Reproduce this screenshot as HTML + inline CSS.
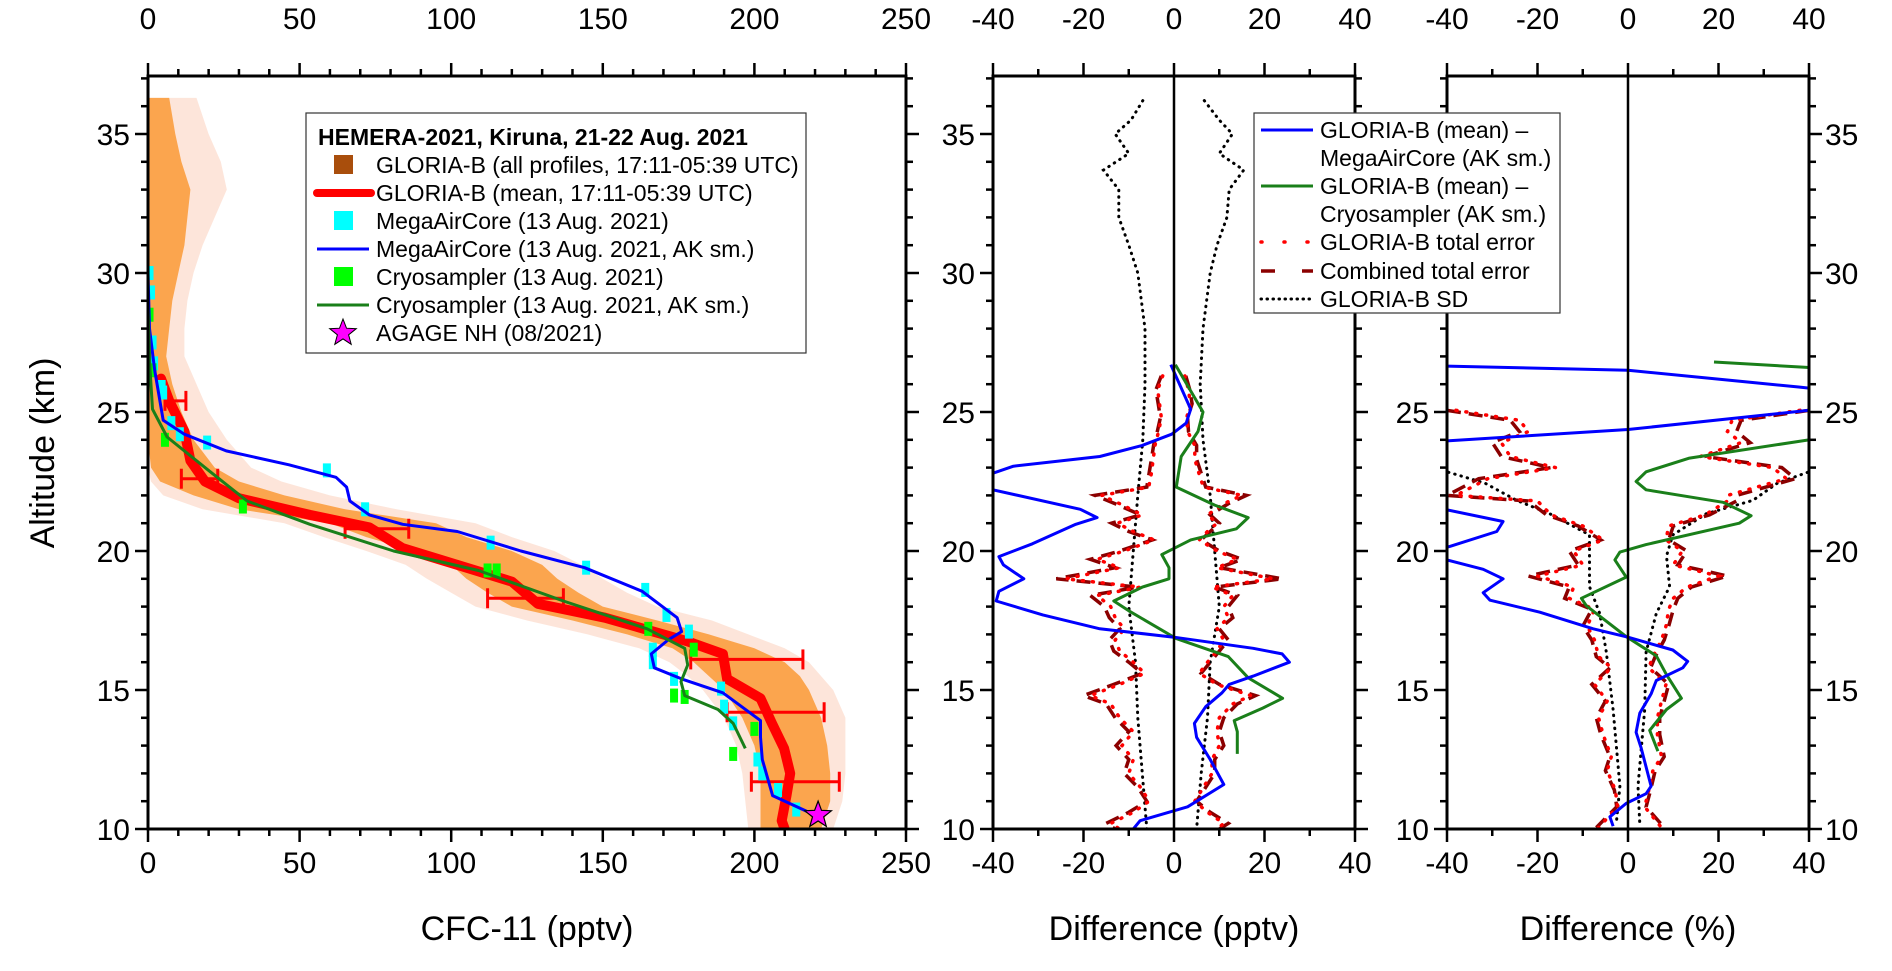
<!DOCTYPE html>
<html><head><meta charset="utf-8">
<style>
body{margin:0;background:#fff;width:1892px;height:971px;overflow:hidden}
svg{display:block}
text{font-family:"Liberation Sans",Arial,sans-serif;fill:#000}
.tl{font-size:30px}
.ti{font-size:34px}
.lg{font-size:23px}
</style></head>
<body>
<svg id="chart" width="1892" height="971" viewBox="0 0 1892 971" xmlns="http://www.w3.org/2000/svg">
<defs>
<clipPath id="c1"><rect x="148" y="76" width="758" height="753"/></clipPath>
<clipPath id="c2"><rect x="993" y="76" width="362" height="753"/></clipPath>
<clipPath id="c3"><rect x="1447" y="76" width="362" height="753"/></clipPath>
</defs>
<g id="p1"></g>
<g id="p2"></g>
<g id="p3"></g>
<g id="axes"></g>

<text class="ti" x="527" y="940" text-anchor="middle">CFC-11 (pptv)</text>
<text class="ti" x="1174" y="940" text-anchor="middle">Difference (pptv)</text>
<text class="ti" x="1628" y="940" text-anchor="middle">Difference (%)</text>
<text class="ti" x="0" y="0" text-anchor="middle" transform="translate(54,453) rotate(-90)">Altitude (km)</text>

<g>
<rect x="306" y="113" width="500" height="240" fill="#fff" stroke="#333" stroke-width="1.2"/>
<text class="lg" x="318" y="145" font-weight="bold">HEMERA-2021, Kiruna, 21-22 Aug. 2021</text>
<g><rect x="334" y="155" width="19" height="19" fill="#a94e0c"/><text class="lg" x="376" y="173">GLORIA-B (all profiles, 17:11-05:39 UTC)</text></g>
<g><line x1="317" y1="193" x2="371" y2="193" stroke="#f00" stroke-width="8" stroke-linecap="round"/><text class="lg" x="376" y="201">GLORIA-B (mean, 17:11-05:39 UTC)</text></g>
<g><rect x="334" y="211" width="19" height="19" fill="#00ffff"/><text class="lg" x="376" y="229">MegaAirCore (13 Aug. 2021)</text></g>
<g><line x1="317" y1="249" x2="369" y2="249" stroke="#0000ff" stroke-width="3"/><text class="lg" x="376" y="257">MegaAirCore (13 Aug. 2021, AK sm.)</text></g>
<g><rect x="334" y="267" width="19" height="19" fill="#00ff00"/><text class="lg" x="376" y="285">Cryosampler (13 Aug. 2021)</text></g>
<g><line x1="317" y1="305" x2="369" y2="305" stroke="#1a7f1a" stroke-width="3"/><text class="lg" x="376" y="313">Cryosampler (13 Aug. 2021, AK sm.)</text></g>
<g><polygon id="lgstar" fill="#ff00ff" stroke="#000" stroke-width="1"/><text class="lg" x="376" y="341">AGAGE NH (08/2021)</text></g>
</g>

<g>
<rect x="1254" y="113" width="306" height="200" fill="#fff" stroke="#333" stroke-width="1.2"/>
<g><line x1="1261" y1="130" x2="1313" y2="130" stroke="#0000ff" stroke-width="3"/><text class="lg" x="1320" y="138">GLORIA-B (mean) –</text><text class="lg" x="1320" y="166">MegaAirCore (AK sm.)</text></g>
<g><line x1="1261" y1="186" x2="1313" y2="186" stroke="#1a7f1a" stroke-width="3"/><text class="lg" x="1320" y="194">GLORIA-B (mean) –</text><text class="lg" x="1320" y="222">Cryosampler (AK sm.)</text></g>
<g><line x1="1261" y1="242" x2="1313" y2="242" stroke="#f00" stroke-width="3.5" stroke-dasharray="1 22" stroke-linecap="round"/><text class="lg" x="1320" y="250">GLORIA-B total error</text></g>
<g><line x1="1261" y1="271" x2="1313" y2="271" stroke="#8b0000" stroke-width="3.5" stroke-dasharray="14 27"/><text class="lg" x="1320" y="279">Combined total error</text></g>
<g><line x1="1261" y1="299" x2="1313" y2="299" stroke="#000" stroke-width="3" stroke-dasharray="0.5 5.5" stroke-linecap="round"/><text class="lg" x="1320" y="307">GLORIA-B SD</text></g>
</g>
</svg>
<script>
// ---------- data ----------
const bandKm   =[36.3,35,34,33,32,31,30,29,28,27,26,25,24,23,22.5,22,21.5,21,20.5,20,19.5,19,18.5,18,17.5,17,16.5,16,15.5,15,14,13,12,11,10];
const darkL    =[0,0,0,0,0,0,0,0,0,0,0,0,0,1,4,15,30,60,72,88,100,105,112,120,140,158,173,180,185,190,196,200,202,202,202];
const darkR    =[7,9,11,14,13,12,10,8,7,6,8,11,15,22,30,45,65,95,105,120,130,135,142,150,168,185,200,210,215,218,222,224,225,225,222];
const lightL   =[0,0,0,0,0,0,0,0,0,0,0,0,0,0,1,5,18,45,58,72,85,92,100,108,125,145,162,172,178,183,190,194,196,197,198];
const lightR   =[16,20,24,26,22,18,15,13,12,12,16,20,26,34,44,60,82,108,120,134,143,150,158,168,186,198,210,218,222,226,230,230,230,229,226];

const meanKm=[26.2,25.4,24.3,23.25,22.5,21.9,21.3,20.85,20.1,19.5,18.9,18.1,17.6,16.75,16.3,15.4,14.7,13.8,12.9,12,11.2,10.3,10];
const meanV =[4.3,7,12,14,18.8,30,53.4,73,84,102,120,128.6,150.7,178,189.6,191,202,205.8,209.8,211.8,210.6,209,210];
const errKm=[25.4,22.6,20.8,18.3,16.1,14.2,11.7];
const errLo=[5.6,11,65,112,179,191,199];
const errHi=[12.5,23,86,137,216,223,228];

const macKm=[30,28,26.5,24.7,24.2,23.6,23.1,22.65,22.3,21.8,21.3,20.96,20.7,20,19.4,18.55,17.6,17.1,16.8,16.3,15.8,15.4,14.9,13.9,13.3,12.5,11.2,10.5];
const macV =[0,0.5,2.2,5,12,25.8,46.5,62,65.5,66.6,73,84,102,123,144,163,174.5,176,171.5,166,167,176,189.6,202,202,202.6,206,220];
const cryKm=[28.8,26.5,25.1,24.1,22.9,21.8,20.96,20,19.3,18.2,17.2,16.5,15.9,15.3,14.8,14.3,13.8,12.9];
const cryV =[0,0.7,1.5,6.3,20,32.7,53.4,81,109,137,164.6,177,178,175.8,177,188,193,197];
const macPtKm=[30,29.3,27.5,26.75,25.9,25.7,24.6,24.2,23.9,22.9,21.5,20.3,19.4,18.6,17.7,17.1,16.45,16.0,15.4,15.05,14.4,13.8,12.5,12.0,11.4,10.7];
const macPtV =[0.5,1,1.5,2,4.5,5,7.7,10.5,19.5,59,71.6,113,144.5,164,171,178.4,166.5,166.5,173.5,189,190,193,201,202.6,207.8,213.8];
const cryPtKm=[28.5,26.5,24.0,21.6,19.3,19.3,17.2,16.45,14.8,14.75,13.6,12.7];
const cryPtV =[0.5,1.5,5.6,31.3,112,115,165,180,173.5,177,200,193];
const agageKm=[10.5], agageV=[221];

// panel 2 (pptv)
const d2MacKm=[26.7,25.1,24.6,24.2,23.8,23.4,23.05,22.8,22.5,22.2,21.5,21.2,20.96,20.26,19.8,19.5,19.0,18.55,18.2,17.7,17.2,16.9,16.5,16.3,16.0,15.5,15.2,14.9,14.4,13.8,13.3,12.5,11.6,10.8,10.3,10];
const d2MacV =[-0.7,3.7,2.7,-0.5,-7,-16.4,-35.5,-40,-45,-40,-20.7,-17,-21.7,-31.3,-38.7,-37.7,-33.2,-38.7,-39.3,-29,-16.4,0,17.5,23.9,25.5,17.5,12.2,10.6,7,4.5,5,8,11,3,-7.5,-9];
const d2CryKm=[26.7,25,24.3,23.4,22.3,21.65,21.2,20.8,20.4,19.87,19.4,19.0,18.7,18.2,17.85,16.85,16.2,15.44,14.7,14.35,13.9,13.5,12.7];
const d2CryV =[0.3,6.4,5.3,1.6,0.5,9,16.4,13.8,3.7,-2.7,-1.1,-1.1,-7,-13.3,-10,0.5,12,16.4,24,19.6,13.3,14,14];
const d2ErrKm=[26.3,25.8,25.3,24.8,24.3,23.8,23.3,22.8,22.3,22.0,21.7,21.3,21.0,20.7,20.4,20.0,19.7,19.4,19.0,18.7,18.4,18.0,17.6,17.2,16.8,16.4,16.0,15.6,15.2,14.8,14.5,14.0,13.5,13.0,12.5,12.0,11.5,11.0,10.6,10.2,10.0];
const d2CombL=[2.8,4,3.5,3,3.7,4.5,5,5.5,6,17.5,13,7.4,13.8,10,4.8,12,18.5,13,26,8,18.5,15.4,14.3,12,14.3,13.3,10,7,13.3,20,15,13,10,12.8,10,11,8,6,10,15,13];
const d2CombR=[2.6,3.5,4,3,3.2,5,5,6,7,16,12,8,10,8,6,10,15,10,24,9,14,12,13,10,12,10,8,6,10,18,14,11,10,11,9,9,7,5,8,12,10];
const d2GlL  =[2.5,3.6,3.2,2.8,3.4,4.2,4.6,5,5.6,16,12,7,12.5,9,4.4,11,17,12,24,7.4,17,14,13,11,13,12,9,6.5,12,18.5,14,12,9,11.5,9,10,7.4,5.5,9,14,12];
const d2GlR  =[2.4,3.2,3.6,2.8,3,4.6,4.6,5.5,6.5,15,11,7.4,9.5,7.4,5.6,9.5,14,9.5,22,8.4,13,11,12,9.5,11,9.5,7.4,5.6,9.5,17,13,10,9.5,10,8.4,8.4,6.5,4.6,7.4,11,9.5];
const d2SdKm=[36.2,35.5,35,34.3,33.7,33,32,31,30,28,26,24,22,20,18,16,14,12,10];
const d2SdL =[6.9,9.5,13,10,15.6,12.2,12.2,10,8,6.4,6.4,6.9,8,9,10,8.5,8,7,6];
const d2SdR =[6.7,10,12.9,10,15.4,12.2,11.7,9.5,8,6.4,5.8,6.4,8,9,10,8,7.4,6,5];

// panel 3 (%)
const d3MacKm=[26.65,26.5,25.9,25.5,25.06,24.37,23.96,23.5,21.48,21.06,20.7,20.17,19.9,19.68,19.34,19.0,18.5,18.23,17.8,17.2,16.9,16.44,16.03,15.8,15.34,14.86,14.17,13.48,12.92,12.23,11.54,11.27,10.92,10.44,10.1];
const d3MacV =[-40,0,37.7,60,40,0,-40,-60,-40,-27.6,-29,-39.3,-45,-40,-32,-27.6,-32,-30.5,-19.5,-7.7,0,9.9,13.2,12.1,6.25,5.1,2.6,1.8,2.9,4,5.1,4,-0.4,-4,-3.3];
const d3CryKm=[26.8,26.6,26.3,24.5,24.0,23.34,22.85,22.5,22.2,21.75,21.27,21.0,20.23,19.96,19.68,19.06,18.3,18.03,16.92,16.23,15.55,14.7,14.3,13.55,12.8];
const d3CryV =[19,40,60,60,40,13.6,4,1.8,4,21,27.2,24.6,4,-1.8,-2.9,-0.4,-10.3,-9.2,-0.4,6.25,8.5,11.8,8.5,4.8,6.6];
const d3ErrKm=[25.06,24.7,24.3,23.9,23.4,23.0,22.6,22.0,21.8,21.3,20.9,20.4,20.0,19.5,19.1,18.7,18.3,17.9,17.3,16.8,16.2,15.8,15.2,14.6,14.0,13.4,12.6,12.1,11.4,10.8,10.05];
const d3CombL=[40,26,24,30,28,17,33,40,22,18,11,6,13,11,22,13,14,8,10,8,7,4,8,5,7,6,4,5,3,2.5,7];
const d3CombR=[40,25,24,27,17,34,37,24,24,18,10,9,13,11,22,14,11,10,9,8,6,5,9,8,7,7,8,6,5,4,8];
const d3GlL  =[38,24,22,28,26,16,31,38,20,17,10,5.5,12,10,20,12,13,7.4,9,7.4,6.5,3.7,7.4,4.6,6.5,5.5,3.7,4.6,2.8,2.3,6.5];
const d3GlR  =[38,23,22,25,16,32,35,22,22,17,9,8.4,12,10,20,13,10,9,8.4,7.4,5.5,4.6,8.4,7.4,6.5,6.5,7.4,5.5,4.6,3.7,7.4];
const d3SdKm=[24,22.85,22.44,21.82,21.34,20.58,19.82,18.72,17.75,16.37,14.3,11.54,10.17];
const d3SdL =[60,40,31.6,24.6,17.3,8.5,8.5,8.5,6.25,4.8,3.3,1.8,2.6];
const d3SdR =[60,40,33,27.6,17.3,9.9,8.5,9.2,6.25,4,3.7,2.2,2.6];

// ---------- scales ----------
const NS="http://www.w3.org/2000/svg";
const Y=k=>829-(k-10)*27.8;
const X1=v=>148+v*3.032;
const X2=v=>1174+v*4.525;
const X3=v=>1628+v*4.525;
function el(tag,attrs,parent){const e=document.createElementNS(NS,tag);for(const k in attrs)e.setAttribute(k,attrs[k]);parent.appendChild(e);return e;}
function pts(xs,ks,X,sign){return ks.map((k,i)=>X((sign||1)*xs[i]).toFixed(1)+","+Y(k).toFixed(1)).join(" ");}

const p1=document.getElementById('p1'),p2=document.getElementById('p2'),p3=document.getElementById('p3'),ax=document.getElementById('axes');
const g1=el('g',{'clip-path':'url(#c1)'},p1),g2=el('g',{'clip-path':'url(#c2)'},p2),g3=el('g',{'clip-path':'url(#c3)'},p3);

function band(L,R,fill,op,name){
  const a=bandKm.map((k,i)=>X1(L[i]).toFixed(1)+","+Y(k).toFixed(1));
  const b=bandKm.map((k,i)=>X1(R[i]).toFixed(1)+","+Y(k).toFixed(1)).reverse();
  const p=el('polygon',{points:a.concat(b).join(" "),fill:fill,opacity:op},g1);
  
  
}
band(lightL,lightR,'#fcdccd',0.75,'gloria-all-profiles-light');
band(darkL,darkR,'#fba54e',1,'gloria-all-profiles-dense');

let m=el('polyline',{points:pts(meanV,meanKm,X1),fill:'none',stroke:'#f00','stroke-width':10,'stroke-linejoin':'round','stroke-linecap':'round'},g1);


errKm.forEach((k,i)=>{
  const g=el('g',{stroke:'#f00','stroke-width':3},g1);
  
  
  el('line',{x1:X1(errLo[i]),x2:X1(errHi[i]),y1:Y(k),y2:Y(k)},g);
  el('line',{x1:X1(errLo[i]),x2:X1(errLo[i]),y1:Y(k)-10,y2:Y(k)+10},g);
  el('line',{x1:X1(errHi[i]),x2:X1(errHi[i]),y1:Y(k)-10,y2:Y(k)+10},g);
});
macPtKm.forEach((k,i)=>{
  const r=el('rect',{x:X1(macPtV[i])-4,y:Y(k)-7,width:8,height:14,fill:'#00ffff'},g1);
  
  
});
cryPtKm.forEach((k,i)=>{
  const r=el('rect',{x:X1(cryPtV[i])-4,y:Y(k)-7,width:8,height:14,fill:'#00ff00'},g1);
  
  
});
let bl=el('polyline',{points:pts(macV,macKm,X1),fill:'none',stroke:'#0000ff','stroke-width':3,'stroke-linejoin':'round'},g1);


let gl=el('polyline',{points:pts(cryV,cryKm,X1),fill:'none',stroke:'#1a7f1a','stroke-width':3,'stroke-linejoin':'round'},g1);


function star(cx,cy,R){let s=[];for(let i=0;i<10;i++){const a=-Math.PI/2+i*Math.PI/5,r=i%2?R*0.42:R;s.push((cx+r*Math.cos(a)).toFixed(1)+","+(cy+r*Math.sin(a)).toFixed(1));}return s.join(" ");}
agageKm.forEach((k,i)=>{
  const s=el('polygon',{points:star(X1(agageV[i]),Y(k),14),fill:'#ff00ff',stroke:'#000','stroke-width':1.2},p1);
  
  
});
document.getElementById('lgstar').setAttribute('points',star(343,333,14));

function diffPanel(g,X,macK,macVv,cryK,cryVv,errK,cL,cR,gL,gR,sdK,sL,sR,pfx){
  const add=(xs,ks,sign,style,name)=>{
    const l=el('polyline',Object.assign({points:pts(xs,ks,X,sign),fill:'none'},style),g);
    
    
  };
  const sd={stroke:'#000','stroke-width':3,'stroke-dasharray':'0.5 6','stroke-linecap':'round'};
  add(sL,sdK,-1,sd,pfx+'-sd-left');
  add(sR,sdK,1,sd,pfx+'-sd-right');
  const gs={stroke:'#f00','stroke-width':3.5,'stroke-dasharray':'1 9','stroke-linecap':'round'};
  const cs={stroke:'#8b0000','stroke-width':3.5,'stroke-dasharray':'14 8'};
  add(cL,errK,-1,cs,pfx+'-combined-error-left');
  add(cR,errK,1,cs,pfx+'-combined-error-right');
  add(gL,errK,-1,gs,pfx+'-gloria-error-left');
  add(gR,errK,1,gs,pfx+'-gloria-error-right');
  add(cryVv,cryK,1,{stroke:'#1a7f1a','stroke-width':3,'stroke-linejoin':'round'},pfx+'-cryosampler-diff');
  add(macVv,macK,1,{stroke:'#0000ff','stroke-width':3,'stroke-linejoin':'round'},pfx+'-megaaircore-diff');
}
diffPanel(g2,X2,d2MacKm,d2MacV,d2CryKm,d2CryV,d2ErrKm,d2CombL,d2CombR,d2GlL,d2GlR,d2SdKm,d2SdL,d2SdR,'pptv');
diffPanel(g3,X3,d3MacKm,d3MacV,d3CryKm,d3CryV,d3ErrKm,d3CombL,d3CombR,d3GlL,d3GlR,d3SdKm,d3SdL,d3SdR,'pct');

// ---------- axes ----------
const T=76,B=829;
const x1Ticks=[0,50,100,150,200,250];
const x2Ticks=[-40,-20,0,20,40];
const yTicks=[10,15,20,25,30,35];
function txt(x,y,s,anchor,name){const t=el('text',{x:x,y:y,'text-anchor':anchor,class:'tl'},ax);t.textContent=s;}
function panelAxes(L,R,X,majors,minorStep,lo,hi,name,yLabelsLeft,yLabelsRight){
  const r=el('rect',{x:L,y:T,width:R-L,height:B-T,fill:'none',stroke:'#000','stroke-width':3},ax);
  
  
  for(let v=lo;v<=hi+1e-6;v+=minorStep){
    const maj=majors.some(m=>Math.abs(m-v)<1e-6),len=maj?13:7,x=X(v);
    el('line',{x1:x,x2:x,y1:T,y2:T-len,stroke:'#000','stroke-width':2.5},ax);
    el('line',{x1:x,x2:x,y1:B,y2:B+len,stroke:'#000','stroke-width':2.5},ax);
  }
  majors.forEach(v=>{txt(X(v),29,String(v),'middle',name+'-top-tick-label');txt(X(v),873,String(v),'middle',name+'-bottom-tick-label');});
  for(let k=10;k<=37;k++){
    const maj=k%5===0,len=maj?13:7,y=Y(k);
    el('line',{x1:L,x2:L-len,y1:y,y2:y,stroke:'#000','stroke-width':2.5},ax);
    el('line',{x1:R,x2:R+len,y1:y,y2:y,stroke:'#000','stroke-width':2.5},ax);
  }
  if(yLabelsLeft)yTicks.forEach(k=>txt(L-18,Y(k)+11,String(k),'end',name+'-y-tick-label'));
  if(yLabelsRight)yTicks.forEach(k=>txt(R+16,Y(k)+11,String(k),'start',name+'-y-tick-label-right'));
}
panelAxes(148,906,X1,x1Ticks,10,0,250,'cfc11',true,false);
panelAxes(993,1355,X2,x2Ticks,10,-40,40,'diff-pptv',true,false);
panelAxes(1447,1809,X3,x2Ticks,10,-40,40,'diff-pct',true,true);
[X2(0),X3(0)].forEach((x,i)=>{
  const l=el('line',{x1:x,x2:x,y1:T,y2:B,stroke:'#000','stroke-width':2.5},ax);
  
  
});
</script>
</body></html>
